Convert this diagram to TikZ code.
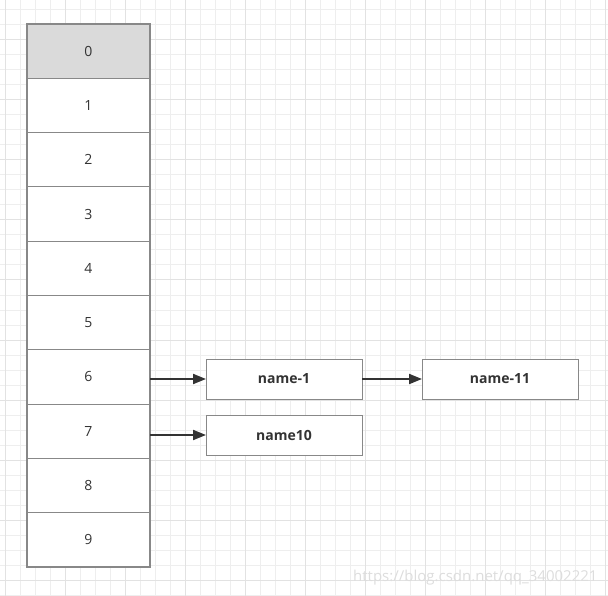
\documentclass[tikz,border=0pt]{standalone}
\usepackage{fontspec}
\setmainfont{Open Sans}
\usetikzlibrary{arrows.meta}
\definecolor{gridminor}{HTML}{EEEEEE}
\definecolor{gridmajor}{HTML}{E2E2E2}
\definecolor{boxline}{HTML}{888888}
\definecolor{arrowc}{HTML}{333333}
\definecolor{headfill}{HTML}{DADADA}
\definecolor{txt}{HTML}{333333}
\definecolor{wm}{HTML}{DDDDDD}
\tikzset{
  cell/.style={draw=boxline, line width=1pt, minimum width=123pt, minimum height=54.3pt, inner sep=0pt, outer sep=0pt, font=\fontsize{14}{16}\selectfont, text=txt, anchor=north west},
  item/.style={draw=boxline, line width=1pt, fill=white, minimum width=156pt, minimum height=40pt, inner sep=0pt, outer sep=0pt, font=\fontsize{14}{16}\selectfont\bfseries, text=txt},
  link/.style={draw=arrowc, line width=2pt, -{Triangle[length=13pt,width=10pt]}}
}
\begin{document}
\begin{tikzpicture}[x=1pt,y=-1pt]
\useasboundingbox (0,0) rectangle (608,596);
\fill[white] (0,0) rectangle (608,596);
% grid
\foreach \i in {0,...,40} {
  \pgfmathsetmacro{\gx}{5+15*\i}
  \draw[gridminor, line width=1pt] (\gx,0) -- (\gx,596);
}
\foreach \j in {0,...,39} {
  \pgfmathsetmacro{\gy}{10+15*\j}
  \draw[gridminor, line width=1pt] (0,\gy) -- (608,\gy);
}
\foreach \i in {0,...,10} {
  \pgfmathsetmacro{\gx}{5+60*\i}
  \draw[gridmajor, line width=1pt] (\gx,0) -- (\gx,596);
}
\foreach \j in {0,...,9} {
  \pgfmathsetmacro{\gy}{40+60*\j}
  \draw[gridmajor, line width=1pt] (0,\gy) -- (608,\gy);
}
% array cells
\node[cell, fill=headfill] (c0) at (27,24) {0};
\foreach \k [remember=\k as \p (initially 0)] in {1,...,9} {
  \node[cell, fill=white] (c\k) at (c\p.south west) {\k};
}
\draw[boxline, line width=2pt] (c0.north west) rectangle (c9.south east);
% list nodes
\node[item] (n1) at (284,379) {name-1};
\node[item] (n10) at (284,435) {name10};
\node[item] (n11) at (500,379) {name-11};
% arrows
\draw[link] (c6.east |- n1.west) -- (n1.west);
\draw[link] (c7.east |- n10.west) -- (n10.west);
\draw[link] (n1.east) -- (n11.west);
% watermark
\node[text=wm, font=\fontsize{15}{17}\selectfont, anchor=east] (wmk) at (601,578) {https://blog.csdn.net/qq\_34002221};
\end{tikzpicture}
\end{document}
